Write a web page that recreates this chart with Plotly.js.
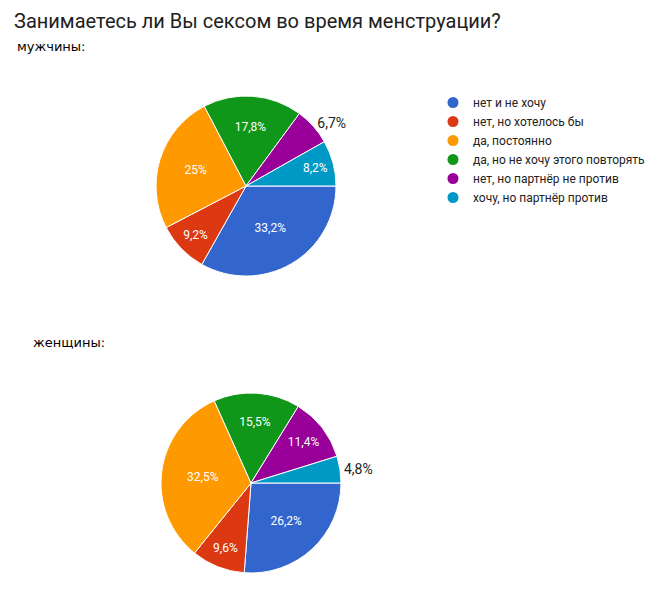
<!DOCTYPE html>
<html>
<head>
<meta charset="utf-8">
<script src="https://cdn.plot.ly/plotly-3.0.1.min.js"></script>
<style>html,body{margin:0;padding:0;background:#fff}#chart{width:664px;height:595px}</style>
</head>
<body>
<div id="chart"></div>
<script>
const titleText = 'Занимаетесь ли Вы сексом во время менструации?';
const groupLabels = ['мужчины:', 'женщины:'];
const categories = ['нет и не хочу', 'нет, но хотелось бы', 'да, постоянно', 'да, но не хочу этого повторять', 'нет, но партнёр не против', 'хочу, но партнёр против'];
const colors = ['#3366cc', '#dc3912', '#ff9900', '#109618', '#990099', '#0099c6'];
const menValues = [33.2, 9.2, 25, 17.8, 6.7, 8.2];
const womenValues = [26.2, 9.6, 32.5, 15.5, 11.4, 4.8];

const W = 664, H = 595;
const fmt = v => String(v).replace('.', ',') + '%';
function dom(cx, cy, r) {
  return { x: [(cx - r) / W, (cx + r) / W], y: [1 - (cy + r) / H, 1 - (cy - r) / H] };
}
function pie(values, d) {
  return {
    type: 'pie', values: values, labels: categories, sort: false, direction: 'clockwise', rotation: 90,
    text: values.map(fmt), textinfo: 'text', hoverinfo: 'label+text',
    textposition: values.map(v => v < 7 ? 'outside' : 'inside'),
    insidetextorientation: 'horizontal',
    insidetextfont: { family: 'Roboto, Arial, sans-serif', size: 12, color: '#ffffff' },
    outsidetextfont: { family: 'Roboto, Arial, sans-serif', size: 14, color: '#222222' },
    marker: { colors: colors, line: { color: '#ffffff', width: 1 } },
    domain: d, showlegend: false
  };
}
const traces = [pie(menValues, dom(246, 186, 90)), pie(womenValues, dom(251, 483, 90))];
categories.forEach((c, i) => traces.push({
  type: 'scatter', mode: 'markers', x: [null], y: [null], name: c,
  marker: { color: colors[i], size: 11, symbol: 'circle' }, hoverinfo: 'skip', showlegend: true
}));

const layout = {
  width: W, height: H, margin: { l: 0, r: 0, t: 0, b: 0 },
  paper_bgcolor: '#ffffff', plot_bgcolor: '#ffffff',
  title: { text: titleText, x: 14 / W, xanchor: 'left', xref: 'paper', y: 1 - 21 / H, yanchor: 'middle', yref: 'container',
    font: { family: 'Roboto, Arial, sans-serif', size: 20, color: '#212121' } },
  xaxis: { visible: false }, yaxis: { visible: false },
  legend: { x: 433 / W, xanchor: 'left', y: 1 - 88 / H, yanchor: 'top', bgcolor: 'rgba(0,0,0,0)',
    font: { family: 'Roboto, Arial, sans-serif', size: 12, color: '#222222' }, tracegroupgap: 0 },
  annotations: [
    { text: groupLabels[0], xref: 'paper', yref: 'paper', x: 15 / W, y: 1 - 47 / H, xanchor: 'left', yanchor: 'middle', showarrow: false,
      font: { family: 'DejaVu Sans, sans-serif', size: 13, color: '#000000' } },
    { text: groupLabels[1], xref: 'paper', yref: 'paper', x: 31 / W, y: 1 - 342 / H, xanchor: 'left', yanchor: 'middle', showarrow: false,
      font: { family: 'DejaVu Sans, sans-serif', size: 13, color: '#000000' } }
  ]
};
Plotly.newPlot('chart', traces, layout, { displayModeBar: false, staticPlot: true });
</script>
</body>
</html>
